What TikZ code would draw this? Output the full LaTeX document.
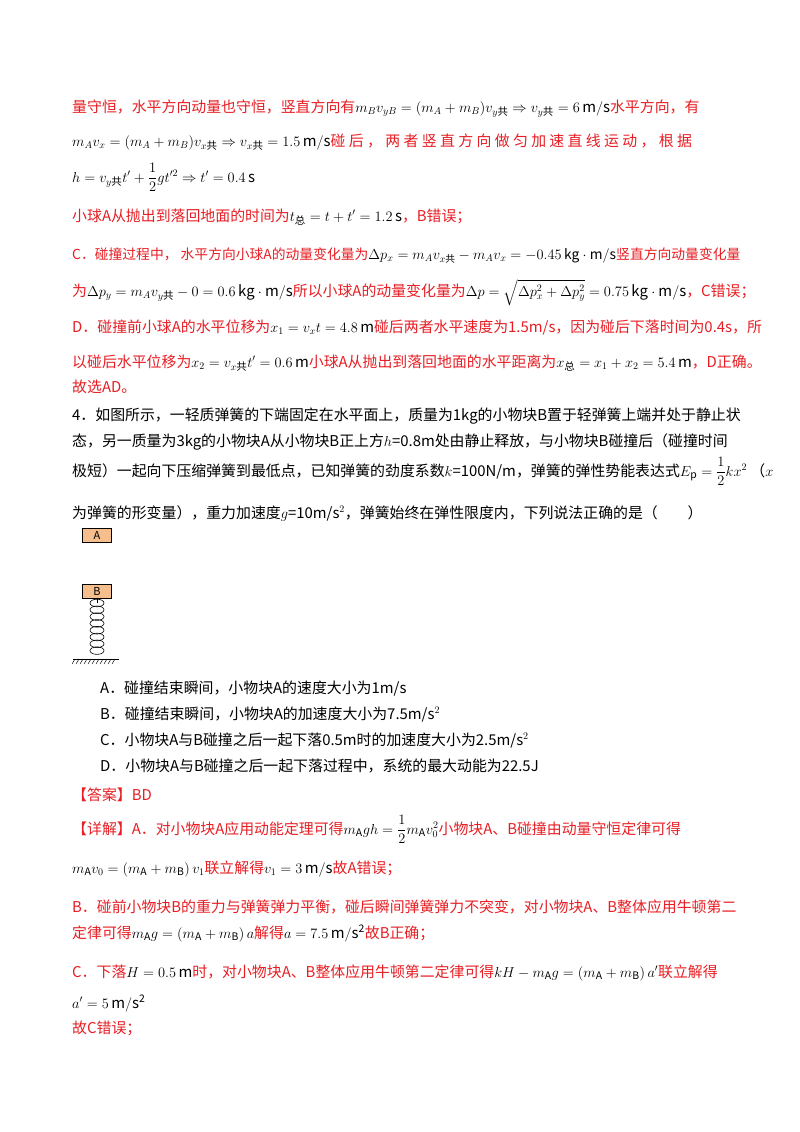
\documentclass[tikz,border=0pt]{standalone}
\usepackage{amsmath}
\usepackage{fontspec}
\setmainfont{Noto Sans CJK SC}
\definecolor{cred}{RGB}{232,30,36}
\definecolor{boxo}{RGB}{245,190,140}
\newcommand{\R}[1]{\textcolor{cred}{#1}}
\newcommand{\un}[1]{\,\mathrm{#1}}
\begin{document}
\begin{tikzpicture}[x=1pt,y=-1pt,
  ln/.style={anchor=base west,inner sep=0pt,font=\fontsize{14.9}{16}\selectfont},
  blk/.style={draw=black,fill=boxo,line width=0.6pt,minimum width=29pt,minimum height=14pt,inner sep=0pt,font=\fontsize{11}{12}\selectfont}]
\useasboundingbox (0,0) rectangle (800,1132);
\fill[white] (0,0) rectangle (800,1132);
\node[ln] (l1) at (72,112) {\R{量守恒，水平方向动量也守恒，竖直方向有}$m_Bv_{yB}=(m_A+m_B)v_{y\text{共}}\Rightarrow v_{y\text{共}}=6\un{m/s}$\R{水平方向，有}};
\node[ln] (l2) at (72,146) {$m_Av_x=(m_A+m_B)v_{x\text{共}}\Rightarrow v_{x\text{共}}=1.5\un{m/s}$\R{碰\ 后\ ，\ 两\ 者\ 竖\ 直\ 方\ 向\ 做\ 匀\ 加\ 速\ 直\ 线\ 运\ 动\ ，\ 根\ 据}};
\node[ln] (l3) at (72,182) {$h=v_{y\text{共}}t'+\dfrac12gt'^2\Rightarrow t'=0.4\un{s}$};
\node[ln] (l4) at (72,221) {\R{小球A从抛出到落回地面的时间为}$t_{\text{总}}=t+t'=1.2\un{s}$\R{，B错误；}};
\node[ln,font=\fontsize{13.8}{16}\selectfont] (l5) at (72,259) {\R{C．碰撞过程中，\ 水平方向小球A的动量变化量为}$\Delta p_x=m_Av_{x\text{共}}-m_Av_x=-0.45\un{kg\cdot m/s}$\R{竖直方向动量变化量}};
\node[ln] (l6) at (72,296) {\R{为}$\Delta p_y=m_Av_{y\text{共}}-0=0.6\un{kg\cdot m/s}$\R{所以小球A的动量变化量为}$\Delta p=\sqrt{\Delta p_x^2+\Delta p_y^2}=0.75\un{kg\cdot m/s}$\R{，C错误；}};
\node[ln] (l7) at (72,332) {\R{D．碰撞前小球A的水平位移为}$x_1=v_xt=4.8\un{m}$\R{碰后两者水平速度为1.5m/s，因为碰后下落时间为0.4s，所}};
\node[ln] (l8) at (72,367) {\R{以碰后水平位移为}$x_2=v_{x\text{共}}t'=0.6\un{m}$\R{小球A从抛出到落回地面的水平距离为}$x_{\text{总}}=x_1+x_2=5.4\un{m}$\R{，D正确。}};
\node[ln] (l9) at (72,392) {\R{故选AD。}};
\node[ln] (q1) at (72,420) {4．如图所示，一轻质弹簧的下端固定在水平面上，质量为1kg的小物块B置于轻弹簧上端并处于静止状};
\node[ln] (q2) at (72,446) {态，另一质量为3kg的小物块A从小物块B正上方$h$=0.8m处由静止释放，与小物块B碰撞后（碰撞时间};
\node[ln] (q3) at (72,476) {极短）一起向下压缩弹簧到最低点，已知弹簧的劲度系数$k$=100N/m，弹簧的弹性势能表达式$E_{\mathrm p}=\dfrac12kx^2$\ （$x$};
\node[ln] (q4) at (72,518) {为弹簧的形变量），重力加速度$g$=10m/s$^2$，弹簧始终在弹性限度内，下列说法正确的是（\qquad）};
% figure
\node[blk] (A) at (97,535.5) {A};
\node[blk] (B) at (97,591.5) {B};
\foreach \i in {0,...,7} \draw[line width=0.6pt] (97,{603+\i*6.8}) ellipse (7pt and 3.8pt);
\draw[line width=0.6pt] (B.south) -- (97,603);
\coordinate (g1) at (73,659); \coordinate (g2) at (119,659);
\draw[line width=0.8pt] (g1) -- (g2);
\foreach \x in {75,79,...,117} \draw[line width=0.5pt] (\x,659) -- (\x-3,664);
\node[ln] (o1) at (100,693) {A．碰撞结束瞬间，小物块A的速度大小为1m/s};
\node[ln] (o2) at (100,719) {B．碰撞结束瞬间，小物块A的加速度大小为7.5m/s$^2$};
\node[ln] (o3) at (100,745) {C．小物块A与B碰撞之后一起下落0.5m时的加速度大小为2.5m/s$^2$};
\node[ln] (o4) at (100,771) {D．小物块A与B碰撞之后一起下落过程中，系统的最大动能为22.5J};
\node[ln] (ans) at (72,800) {\R{【答案】BD}};
\node[ln] (d1) at (72,834) {\R{【详解】A．对小物块A应用动能定理可得}$m_{\mathrm A}gh=\dfrac12m_{\mathrm A}v_0^2$\R{小物块A、B碰撞由动量守恒定律可得}};
\node[ln] (d2) at (72,873) {$m_{\mathrm A}v_0=\left(m_{\mathrm A}+m_{\mathrm B}\right)v_1$\R{联立解得}$v_1=3\un{m/s}$\R{故A错误；}};
\node[ln] (d3) at (72,912) {\R{B．碰前小物块B的重力与弹簧弹力平衡，碰后瞬间弹簧弹力不突变，对小物块A、B整体应用牛顿第二}};
\node[ln] (d4) at (72,938) {\R{定律可得}$m_{\mathrm A}g=\left(m_{\mathrm A}+m_{\mathrm B}\right)a$\R{解得}$a=7.5\un{m/s^2}$\R{故B正确；}};
\node[ln] (d5) at (72,977) {\R{C．下落}$H=0.5\un{m}$\R{时，对小物块A、B整体应用牛顿第二定律可得}$kH-m_{\mathrm A}g=\left(m_{\mathrm A}+m_{\mathrm B}\right)a'$\R{联立解得}};
\node[ln] (d6) at (72,1008) {$a'=5\un{m/s^2}$};
\node[ln] (d7) at (72,1033) {\R{故C错误；}};
\end{tikzpicture}
\end{document}
